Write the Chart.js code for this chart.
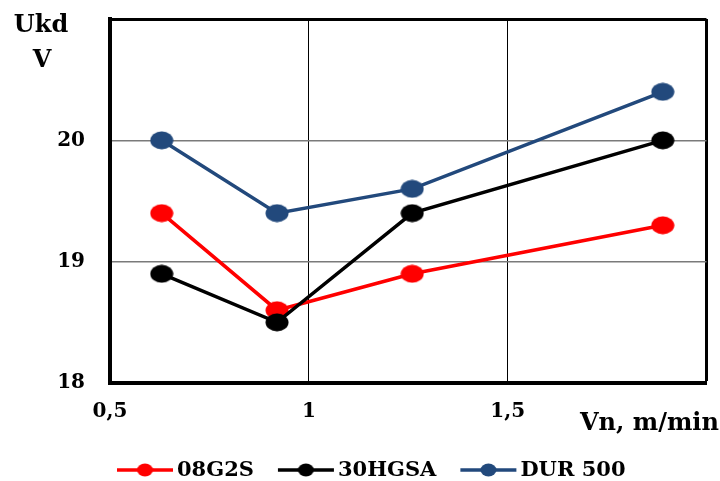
<!DOCTYPE html>
<html>
<head>
<meta charset="utf-8">
<script src="https://cdn.jsdelivr.net/npm/chart.js@4/dist/chart.umd.min.js"></script>
<style>
  html, body { margin: 0; padding: 0; background: #fff; }
  canvas { display: block; }
</style>
</head>
<body>
<canvas id="chart" width="720" height="481"></canvas>
<script>
// Vn, m/min
const vn = [0.63, 0.92, 1.26, 1.89];
// Ukd, V
const u08G2S = [19.4, 18.6, 18.9, 19.3];
const u30HGSA = [18.9, 18.5, 19.4, 20.0];
const uDur500 = [20.0, 19.4, 19.6, 20.4];

const seriesNames = ["08G2S", "30HGSA", "DUR 500"];
const seriesColors = ["#ff0000", "#000000", "#22497c"];

const FONT = "'DejaVu Serif', serif";

function ellipse(color, w, h) {
  const c = document.createElement("canvas");
  c.width = w;
  c.height = h;
  const g = c.getContext("2d");
  g.fillStyle = color;
  g.beginPath();
  g.ellipse(w / 2, h / 2, w / 2 - 0.5, h / 2 - 0.5, 0, 0, Math.PI * 2);
  g.fill();
  return c;
}

function toPoints(ys) {
  return ys.map((y, i) => ({ x: vn[i], y: y }));
}

const allSeries = [u08G2S, u30HGSA, uDur500];

const datasets = allSeries.map((ys, i) => ({
  label: seriesNames[i],
  data: toPoints(ys),
  borderColor: seriesColors[i],
  backgroundColor: seriesColors[i],
  borderWidth: 3.5,
  pointStyle: ellipse(seriesColors[i], 24, 19),
  pointRadius: 10,
  order: 3 - i,
  tension: 0
}));

const extraText = {
  id: "extraText",
  afterDraw(chart) {
    const ctx = chart.ctx;
    ctx.save();
    ctx.fillStyle = "#000";
    ctx.textBaseline = "alphabetic";

    // y axis title
    ctx.font = "bold 24px " + FONT;
    ctx.textAlign = "center";
    ctx.fillText("Ukd", 41, 32);
    ctx.fillText("V", 42, 67);

    // x axis title
    ctx.textAlign = "left";
    ctx.fillText("Vn, m/min", 580, 430);

    // legend: line with dot + label
    ctx.font = "bold 21px " + FONT;
    ctx.textBaseline = "middle";
    let x = 117;
    const y = 470;
    chart.data.datasets.forEach((ds, i) => {
      ctx.strokeStyle = seriesColors[i];
      ctx.lineWidth = 3.5;
      ctx.beginPath();
      ctx.moveTo(x, y);
      ctx.lineTo(x + 56, y);
      ctx.stroke();
      ctx.drawImage(ellipse(seriesColors[i], 17, 14), x + 28 - 8.5, y - 7);
      ctx.fillStyle = "#000";
      ctx.fillText(ds.label, x + 60, y + 1);
      x += 60 + ctx.measureText(ds.label).width + 24;
    });
    ctx.restore();
  }
};

new Chart(document.getElementById("chart"), {
  type: "line",
  data: { datasets: datasets },
  plugins: [extraText],
  options: {
    responsive: false,
    animation: false,
    devicePixelRatio: 1,
    layout: { padding: { top: 19, right: 13, left: 0, bottom: 0 } },
    plugins: {
      legend: { display: false },
      tooltip: { enabled: false }
    },
    scales: {
      x: {
        type: "linear",
        min: 0.5,
        max: 2,
        afterFit: scale => {
          scale.height = 98;
          scale.paddingLeft = 0;
          scale.paddingRight = 0;
        },
        ticks: {
          stepSize: 0.5,
          padding: 17,
          color: "#000",
          font: { family: FONT, size: 20, weight: "bold" },
          callback: v => (v === 2 ? "" : String(v).replace(".", ","))
        },
        grid: {
          drawTicks: false,
          color: "#000",
          lineWidth: c => (c.tick && c.tick.value === 2 ? 3 : 1)
        },
        border: { color: "#000", width: 4 }
      },
      y: {
        min: 18,
        max: 21,
        afterFit: scale => {
          scale.width = 110;
          scale.paddingTop = 0;
          scale.paddingBottom = 0;
        },
        ticks: {
          stepSize: 1,
          padding: 25,
          color: "#000",
          font: { family: FONT, size: 20, weight: "bold" },
          callback: v => (v === 21 ? "" : v)
        },
        grid: {
          drawTicks: false,
          color: c => (c.tick && c.tick.value === 21 ? "#000" : "#7a7a7a"),
          lineWidth: c => (c.tick && c.tick.value === 21 ? 3 : 1.5)
        },
        border: { color: "#000", width: 4 }
      }
    }
  }
});
</script>
</body>
</html>
